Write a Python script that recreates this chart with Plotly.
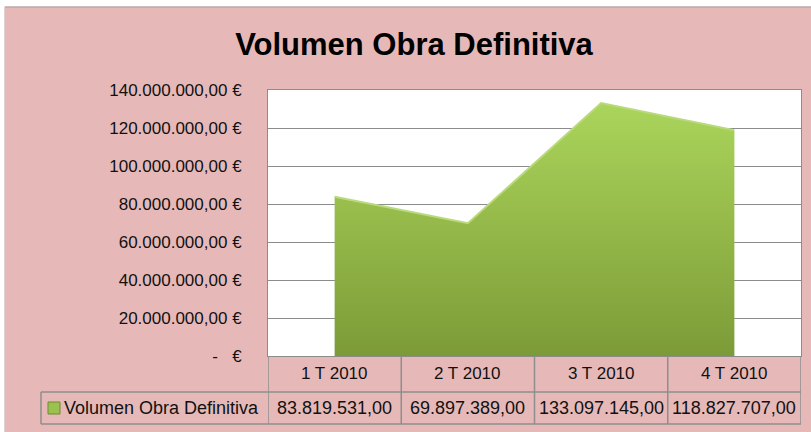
import plotly.graph_objects as go

# ---- data ----
categories = ["1 T 2010", "2 T 2010", "3 T 2010", "4 T 2010"]
series_name = "Volumen Obra Definitiva"
values = [83819531.00, 69897389.00, 133097145.00, 118827707.00]
tick_values = [0, 20e6, 40e6, 60e6, 80e6, 100e6, 120e6, 140e6]
tick_labels = ["-\u00a0\u00a0\u00a0€", "20.000.000,00 €", "40.000.000,00 €", "60.000.000,00 €",
               "80.000.000,00 €", "100.000.000,00 €", "120.000.000,00 €", "140.000.000,00 €"]
title_text = "Volumen Obra Definitiva"


def fmt_es(v):
    s = f"{v:,.2f}"
    return s.replace(",", "X").replace(".", ",").replace("X", ".")


W, H = 811, 432
ML, MR, MT, MB = 268, 10, 90, 76
PW = W - ML - MR
PH = H - MT - MB


def px(xp):
    return (xp - ML) / PW


def py(yp):
    return (H - MB - yp) / PH


PINK = "#E6B9B8"
GRID = "#8C8C8C"
BORDER = "#8E8E8E"
FONT = "Liberation Sans, Arial, sans-serif"

xs = list(range(len(categories)))

fig = go.Figure()
fig.add_trace(go.Scatter(
    x=xs, y=values, mode="lines", fill="tozeroy",
    line=dict(color="#B9DA7C", width=2),
    fillgradient=dict(type="vertical",
                      colorscale=[[0, "#7C9B38"], [0.5, "#94B849"], [1, "#AAD55B"]]),
    hoverinfo="skip", showlegend=False,
))

shapes = []
# white frame strips outside the pink chart area (top and left) + border lines
shapes.append(dict(type="rect", xref="paper", yref="paper", layer="below",
                   x0=px(-20), x1=px(W + 20), y0=py(6.5), y1=py(-20),
                   fillcolor="white", line=dict(width=0)))
shapes.append(dict(type="rect", xref="paper", yref="paper", layer="below",
                   x0=px(-20), x1=px(4.5), y0=py(H + 20), y1=py(-20),
                   fillcolor="white", line=dict(width=0)))
shapes.append(dict(type="line", xref="paper", yref="paper", layer="below",
                   x0=px(5), x1=px(W + 20), y0=py(7), y1=py(7),
                   line=dict(color="#A0A0A0", width=1)))
shapes.append(dict(type="line", xref="paper", yref="paper", layer="below",
                   x0=px(5), x1=px(5), y0=py(H + 20), y1=py(7),
                   line=dict(color="#C8C8C8", width=1)))

# data table lines
top_y = 0
row1_y = py(392)
row2_y = py(424)
legend_left = px(41)
for b in [-0.5, 0.5, 1.5, 2.5, 3.5]:
    shapes.append(dict(type="line", xref="x", yref="paper", x0=b, x1=b,
                       y0=row2_y, y1=top_y, line=dict(color=BORDER, width=1.5)))
shapes.append(dict(type="line", xref="paper", yref="paper", x0=legend_left, x1=1,
                   y0=row1_y, y1=row1_y, line=dict(color=BORDER, width=1.5)))
shapes.append(dict(type="line", xref="paper", yref="paper", x0=legend_left, x1=1,
                   y0=row2_y, y1=row2_y, line=dict(color=BORDER, width=1.5)))
shapes.append(dict(type="line", xref="paper", yref="paper", x0=legend_left, x1=legend_left,
                   y0=row2_y, y1=row1_y, line=dict(color=BORDER, width=1.5)))
# legend key square
shapes.append(dict(type="rect", xref="paper", yref="paper",
                   x0=px(48), x1=px(60), y0=py(414), y1=py(402),
                   fillcolor="#9BC24F", line=dict(color="#6E8A2E", width=1)))

annotations = []
for i, c in enumerate(categories):
    annotations.append(dict(x=i, xref="x", y=py(373), yref="paper", text=c,
                            showarrow=False, xanchor="center", yanchor="middle",
                            font=dict(family=FONT, size=17, color="#111")))
    annotations.append(dict(x=i, xref="x", y=py(408), yref="paper", text=fmt_es(values[i]),
                            showarrow=False, xanchor="center", yanchor="middle",
                            font=dict(family=FONT, size=18, color="#111")))
annotations.append(dict(x=px(62), xref="paper", y=py(408), yref="paper", text=series_name,
                        showarrow=False, xanchor="left", yanchor="middle",
                        font=dict(family=FONT, size=18, color="#111")))

fig.update_layout(
    width=W, height=H,
    margin=dict(l=ML, r=MR, t=MT, b=MB),
    paper_bgcolor=PINK,
    plot_bgcolor="white",
    title=dict(text=f"<b>{title_text}</b>", x=414 / W, xanchor="center", xref="container",
               y=1 - 44 / H, yanchor="middle", yref="container",
               font=dict(family=FONT, size=31, color="#000")),
    xaxis=dict(range=[-0.5, 3.5], showticklabels=False, showgrid=False, zeroline=False,
               showline=True, mirror=True, linecolor=GRID, linewidth=1, ticks="",
               automargin=False),
    yaxis=dict(range=[0, 140e6], tickvals=tick_values, ticktext=tick_labels,
               showgrid=True, gridcolor=GRID, gridwidth=1, zeroline=False,
               showline=True, mirror=True, linecolor=GRID, linewidth=1, ticks="",
               ticklabelstandoff=22, automargin=False,
               tickfont=dict(family=FONT, size=17, color="#111")),
    shapes=shapes,
    annotations=annotations,
    showlegend=False,
)

fig.write_html("out.html",
               config={"displayModeBar": False},
               post_script="document.body.style.margin='0';document.body.style.padding='0';")
